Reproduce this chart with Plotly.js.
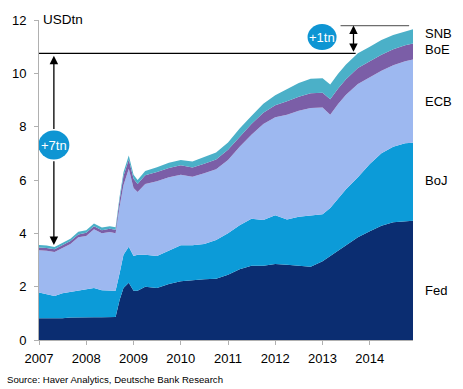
<!DOCTYPE html>
<html>
<head>
<meta charset="utf-8">
<script src="https://cdn.plot.ly/plotly-3.0.1.min.js"></script>
<style>
  html, body { margin: 0; padding: 0; background: #ffffff; }
  #chart { width: 463px; height: 389px; }
</style>
</head>
<body>
<div id="chart"></div>
<script>
// Dates of readings
var dates = [
  "2007-01-01","2007-03-01","2007-05-01","2007-07-01","2007-09-01","2007-11-01",
  "2008-01-01","2008-03-01","2008-05-01","2008-07-01","2008-08-15","2008-09-15",
  "2008-10-15","2008-11-25","2009-01-01","2009-02-01","2009-04-01","2009-07-01",
  "2009-10-01","2010-01-01","2010-04-01","2010-07-01","2010-10-01","2011-01-01",
  "2011-04-01","2011-07-01","2011-10-01","2012-01-01","2012-04-01","2012-07-01",
  "2012-10-01","2013-01-01","2013-03-01","2013-05-01","2013-07-01","2013-10-01",
  "2014-01-01","2014-04-01","2014-07-01","2014-10-01","2014-12-01"
];
// Central bank balance sheets, USD trillion (stacked)
var fed = [0.82,0.82,0.81,0.82,0.84,0.85,0.85,0.85,0.85,0.85,0.86,1.50,1.95,2.15,1.85,1.85,2.00,1.95,2.10,2.20,2.25,2.28,2.30,2.45,2.65,2.78,2.78,2.85,2.82,2.78,2.75,2.95,3.15,3.35,3.55,3.85,4.08,4.28,4.42,4.46,4.47];
var boj = [0.96,0.90,0.84,0.93,0.96,1.00,1.05,1.10,1.02,1.00,0.99,1.00,1.25,1.35,1.30,1.35,1.20,1.20,1.25,1.35,1.30,1.32,1.45,1.55,1.65,1.77,1.72,1.83,1.70,1.84,1.92,1.77,1.80,1.95,2.10,2.25,2.52,2.72,2.83,2.92,2.93];
var ecb = [1.59,1.63,1.65,1.70,1.80,2.00,2.00,2.20,2.13,2.20,2.15,2.50,2.60,2.92,2.55,2.35,2.65,2.80,2.75,2.65,2.57,2.65,2.65,2.75,2.95,3.15,3.60,3.67,3.93,3.98,4.03,4.00,3.50,3.55,3.55,3.50,3.25,3.10,3.05,3.07,3.12];
var boe = [0.10,0.10,0.10,0.10,0.11,0.11,0.12,0.12,0.12,0.12,0.13,0.25,0.35,0.35,0.35,0.30,0.33,0.35,0.35,0.35,0.35,0.36,0.37,0.38,0.38,0.40,0.42,0.45,0.50,0.52,0.55,0.55,0.58,0.58,0.58,0.60,0.60,0.60,0.60,0.60,0.60];
var snb = [0.09,0.09,0.09,0.09,0.09,0.10,0.10,0.10,0.10,0.10,0.10,0.12,0.14,0.15,0.15,0.15,0.16,0.18,0.20,0.20,0.22,0.25,0.26,0.28,0.30,0.30,0.34,0.38,0.45,0.52,0.55,0.55,0.55,0.55,0.55,0.55,0.55,0.55,0.54,0.53,0.53];

var seriesNames = ["Fed","BoJ","ECB","BoE","SNB"];
var seriesColors = ["#0b2d71","#0c9bd8","#9db8f0","#7b5ea7","#4bb0c8"];
var seriesData = [fed, boj, ecb, boe, snb];
var labelY = [1.87, 6.0, 8.96, 10.9, 11.5];

var yTicks = [0,2,4,6,8,10,12];
var xTickVals = ["2007-01-01","2008-01-01","2009-01-01","2010-01-01","2011-01-01","2012-01-01","2013-01-01","2014-01-01"];
var xTickText = ["2007","2008","2009","2010","2011","2012","2013","2014"];

// annotation levels
var lowerLevel = 10.75, upperLevel = 11.79, startTop = 3.56;

var traces = seriesData.map(function(vals, i){
  return {
    x: dates, y: vals, type: "scatter", mode: "lines",
    stackgroup: "one", name: seriesNames[i],
    line: {width: 0, color: seriesColors[i], shape: "linear"},
    fillcolor: seriesColors[i], hoverinfo: "skip"
  };
});

var font = "Liberation Sans, Arial, sans-serif";
var badge = "#0e95d3";

var annotations = seriesNames.map(function(n, i){
  return {xref:"paper", yref:"y", x:1, y:labelY[i], xanchor:"left", yanchor:"middle",
          xshift:10, text:n, showarrow:false, font:{family:font, size:13, color:"#000"}};
});
annotations.push({xref:"paper", yref:"y", x:0, y:12, xanchor:"left", yanchor:"middle",
  xshift:2, yshift:1, text:"USDtn", showarrow:false, font:{family:font, size:13.5, color:"#000"}});
annotations.push({xref:"paper", yref:"paper", x:0, y:0, xanchor:"left", yanchor:"middle",
  xshift:-34, yshift:-39, text:"Source: Haver Analytics, Deutsche Bank Research", showarrow:false,
  font:{family:font, size:9.6, color:"#000"}});
// +7tn badge text and arrows
annotations.push({xref:"x", yref:"y", x:"2007-04-26", y:7.31, text:"+7tn", showarrow:false,
  font:{family:font, size:13, color:"#fff"}});
annotations.push({xref:"x", yref:"y", x:"2007-04-26", y:10.66, text:"", showarrow:true,
  axref:"pixel", ax:0, ayref:"y", ay:7.86, arrowhead:2, arrowsize:1.3, arrowwidth:1.3, arrowcolor:"#000"});
annotations.push({xref:"x", yref:"y", x:"2007-04-26", y:startTop, text:"", showarrow:true,
  axref:"pixel", ax:0, ayref:"y", ay:6.76, arrowhead:2, arrowsize:1.3, arrowwidth:1.3, arrowcolor:"#000"});
// +1tn badge text and double arrow
annotations.push({xref:"x", yref:"y", x:"2012-12-28", y:11.36, text:"+1tn", showarrow:false,
  font:{family:font, size:13, color:"#fff"}});
annotations.push({xref:"x", yref:"y", x:"2013-08-28", y:upperLevel, text:"", showarrow:true,
  axref:"pixel", ax:0, ayref:"y", ay:lowerLevel, arrowside:"end+start",
  arrowhead:2, startarrowhead:2, arrowsize:1.3, startarrowsize:1.3, arrowwidth:1.3, arrowcolor:"#000"});

var shapes = [
  {type:"line", xref:"paper", yref:"y", x0:0, x1:0.8466, y0:lowerLevel, y1:lowerLevel,
   line:{color:"#000", width:1.2}, layer:"above"},
  {type:"line", xref:"x", yref:"y", x0:"2013-05-20", x1:"2014-11-01", y0:upperLevel, y1:upperLevel,
   line:{color:"#6e6e6e", width:1.2}, layer:"above"},
  {type:"circle", xref:"x", yref:"y", xsizemode:"pixel", ysizemode:"pixel",
   xanchor:"2007-04-26", yanchor:7.31, x0:-15.5, x1:15.5, y0:-14.5, y1:14.5,
   fillcolor:badge, line:{width:0}, layer:"above"},
  {type:"circle", xref:"x", yref:"y", xsizemode:"pixel", ysizemode:"pixel",
   xanchor:"2012-12-28", yanchor:11.36, x0:-14.5, x1:14.5, y0:-13, y1:13,
   fillcolor:badge, line:{width:0}, layer:"above"}
];

var layout = {
  width: 463, height: 389,
  margin: {l:39, r:50, t:20, b:49, pad:0},
  paper_bgcolor: "#fff", plot_bgcolor: "#fff",
  showlegend: false,
  font: {family: font, size: 13, color: "#000"},
  xaxis: {
    type: "date", range: ["2007-01-01","2014-12-01"],
    tickvals: xTickVals, ticktext: xTickText,
    showgrid: false, zeroline: false,
    showline: true, linecolor: "#b0b0b0", linewidth: 1,
    ticks: "outside", ticklen: 4, tickcolor: "#b0b0b0",
    tickfont: {family: font, size: 13, color: "#000"},
    ticklabelstandoff: 2, fixedrange: true
  },
  yaxis: {
    range: [0, 12], tickvals: yTicks,
    showgrid: false, zeroline: false,
    showline: true, linecolor: "#b0b0b0", linewidth: 1,
    ticks: "outside", ticklen: 4, tickcolor: "#b0b0b0",
    tickfont: {family: font, size: 13, color: "#000"},
    ticklabelstandoff: 5, fixedrange: true
  },
  annotations: annotations,
  shapes: shapes
};

Plotly.newPlot("chart", traces, layout, {displayModeBar: false, staticPlot: true});
</script>
</body>
</html>
